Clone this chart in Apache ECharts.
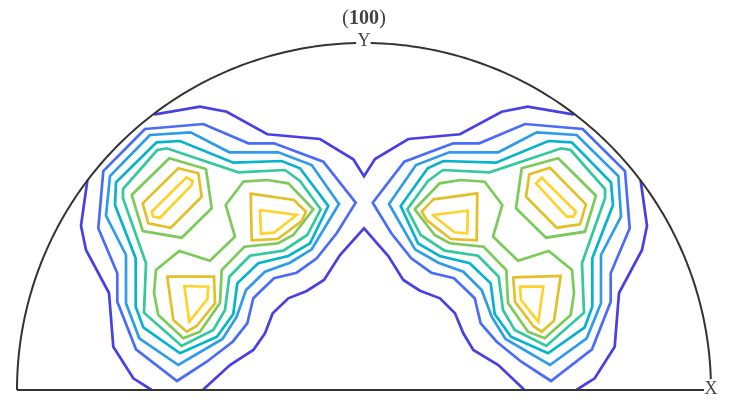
<!DOCTYPE html>
<html>
<head>
<meta charset="utf-8">
<style>html,body{margin:0;padding:0;background:#fff}#c{width:730px;height:412px}</style>
<script src="https://cdn.jsdelivr.net/npm/echarts@6/dist/echarts.min.js"></script>
</head>
<body>
<div id="c"></div>
<script>
// Values, in the picture's own x / y (down) units.
const titleText = ['(', '100', ')'];
const axisLabelY = 'Y';
const axisLabelX = 'X';
const levelColors = ['#4a3fe2','#4a6cf6','#2e9ce8','#05b4cc','#33c89e','#7cca5a','#e3bf28','#fed32c'];

const level1Open = [
  [[155,114.3],[200,106.7],[226.7,111.7],[267.3,134.3],[320,139],[353.3,159.3],[364,176.3],[375,159],[408.3,139],[460,134.3],[501.7,111.7],[527.7,106.7],[573,114.3]],
  [[87.3,181],[81,225.7],[86,250],[109,293],[113.3,346.7],[133.3,378.3],[151,389.5]],
  [[203.3,389.5],[230,365],[253.3,350],[265,333.3],[272.7,313.3],[288.3,298.3],[306.7,291],[324,280],[340,255],[364,228.3],[388.3,256],[403.3,280],[420,290.7],[440,298.3],[455,313.3],[463.3,333.3],[473.3,350],[498.3,365],[524,389.5]],
  [[640.7,181],[647,225.7],[642,250],[619,293],[614.7,346.7],[594.7,378.3],[577,389.5]]
];
const level2Left = [[145,129],[203.3,124],[248.3,143.3],[274,143.3],[323.3,161.7],[355.7,202.7],[336.7,233.3],[316.7,258.3],[296.7,272.7],[274,278.3],[253.3,298.3],[247.3,323.3],[232.7,341.7],[206.7,361.7],[177,381],[136,349.3],[117.3,301.7],[117.3,273.3],[98.3,228.3],[103.3,171]];
const level2Right = [[372.7,202.7],[404.3,161.7],[453.3,143.3],[479.3,143.3],[525,124],[582.7,129],[625,171],[629.7,228.3],[610.7,273.3],[610.7,301.7],[592,349.3],[551,381],[521.3,361.7],[496.7,341.7],[480.7,323.3],[474.7,298.3],[454,278.3],[431.3,272.7],[411.3,258.3],[391.3,233.3]];
const level3Left = [[150,135],[190.7,132.3],[229.3,152.3],[278.3,152.3],[311.7,165],[339,204],[311.7,249.3],[290,262.7],[265,271.7],[246,290],[236.7,316.7],[222.5,339],[178.3,365],[139.3,338.3],[126,303.3],[126,255],[106,215.7],[110,176]];
const level3Right = [[389,204],[416,165],[449.3,152.3],[498.3,152.3],[536.7,132.3],[576.7,135],[618.3,176],[621,216.7],[601,255],[601,303.3],[586.7,338.3],[550,365],[505.5,339],[491.7,316.7],[481.7,290],[463.3,271.7],[438.3,262.7],[415,249.3]];
const level4Left = [[156.7,142.3],[180,141],[233.3,162.7],[281.7,161],[300,168.3],[328.3,206],[310,243.3],[288.3,256],[258.3,263.3],[237.3,283.3],[233.3,314],[217,336.7],[180,353.3],[143.3,327.3],[135.7,306.7],[135.7,258.3],[115,205],[116,182.3]];
const level4Right = [[400.7,206],[427.7,168.3],[443.3,161],[496,162.7],[548.3,141],[571.7,142.3],[611,182.3],[613,205],[592.3,258.3],[592.3,306.7],[584.7,327.3],[548,353.3],[511,336.7],[494.7,314],[490.7,283.3],[469.7,263.3],[439.7,256],[418,243.3]];
const level5Left = [[157.3,150],[166.7,148.3],[238.3,172.3],[285,170],[300,181],[320.7,209.3],[307.3,235],[283.3,250.7],[250,255.7],[229.3,276.7],[225,310],[213.3,330],[181.7,346],[144,312.7],[146,263.3],[123,198.3],[123,189]];
const level5Right = [[407.3,209.3],[428,181],[443,170],[489.7,172.3],[561.3,148.3],[570.7,150],[605,189],[605,198.3],[582,263.3],[584,312.7],[546.3,346],[514.7,330],[503,310],[498.7,276.7],[478,255.7],[444.7,250.7],[420.7,235]];
const level6UpperLeft = [[169.3,158.3],[206,169],[211.7,208.3],[181.7,237.7],[142.7,231],[131.7,195]];
const level6UpperRight = [[521.7,168.3],[558.3,158.3],[596,195.7],[585,231.7],[546,237.7],[516,208.3]];
const level6LowerLeft = [[243.3,181.7],[267.3,180],[288.3,183.3],[313.3,209.3],[293.3,235],[278.3,243.3],[244.3,246.7],[221.7,270],[220,303],[200,331.7],[183.3,338.3],[158.3,315],[154,293.3],[156,270],[179.3,251],[210,260.7],[235,236.5],[225.7,205]];
const level6LowerRight = [[414.7,209.3],[439.7,183.3],[460.7,180],[484.7,181.7],[502.3,205],[493,236.5],[518,260.7],[548.7,251],[572,270],[574,293.3],[570.7,315],[544.7,338.3],[528,331.7],[508,303],[506.3,270],[483.7,246.7],[449.7,243.3],[434.7,235]];
const level7A = [[178.3,168.3],[198.3,173.3],[201.7,196.7],[170.7,227.7],[148.3,223.3],[142.7,203.3]];
const level7B = [[250.7,193.7],[294,200],[306,211.7],[301.7,221],[277.7,239],[251.7,240.3]];
const level7C = [[167.3,276.7],[214,276.7],[215,303.3],[196.7,326],[186.7,331.7],[173.3,320]];
const level7D = [[529.3,174.3],[550,167.7],[586,204.3],[580,224.3],[556.7,227.7],[526,196.7]];
const level7E = [[433.3,199.3],[477.3,193.3],[476.7,240.3],[450.7,239],[426.7,220],[421.7,211.7]];
const level7F = [[513.3,277.3],[560.7,276],[554,320.7],[541.7,331.7],[533.3,326],[515,301.7]];
const level8A = [[186.7,177.3],[192.7,181],[191.7,185],[160,217.7],[153.3,216.7],[151.7,211.7]];
const level8B = [[260,210],[296.7,215],[274,232.7],[261,233.7]];
const level8C = [[184.3,286],[208.3,286.7],[207.3,299.3],[189.3,321.7]];
const level8D = [[541.7,177.7],[536,183.3],[566.7,216.7],[573.3,216.7],[576,211.7]];
const level8E = [[432.7,215],[467.7,210.7],[467.3,233.3],[454.3,232.3]];
const level8F = [[520,286.7],[543.3,286.7],[538.3,321.7],[521,300]];

const frameCentre = [364, 390];
const frameRadius = 347;
const frameBase = [[17,390],[704,390]];

const close = p => p.concat([p[0]]);
const contours = [
  ...level1Open.map(p => [0, p]),
  [1, close(level2Left)], [1, close(level2Right)],
  [2, close(level3Left)], [2, close(level3Right)],
  [3, close(level4Left)], [3, close(level4Right)],
  [4, close(level5Left)], [4, close(level5Right)],
  [5, close(level6UpperLeft)], [5, close(level6UpperRight)],
  [5, close(level6LowerLeft)], [5, close(level6LowerRight)],
  ...[level7A,level7B,level7C,level7D,level7E,level7F].map(p => [6, close(p)]),
  ...[level8A,level8B,level8C,level8D,level8E,level8F].map(p => [7, close(p)])
];

// Circular frame of the pole figure (left of the Y gap, right of the Y gap).
function arc(fromDeg, toDeg) {
  const pts = [];
  const n = Math.ceil(Math.abs(toDeg - fromDeg));
  for (let i = 0; i <= n; i++) {
    const a = (fromDeg + (toDeg - fromDeg) * i / n) * Math.PI / 180;
    pts.push([frameCentre[0] + frameRadius * Math.cos(a), frameCentre[1] - frameRadius * Math.sin(a)]);
  }
  return pts;
}
const frameStyle = { color: '#333333', width: 2 };
const frame = [arc(180, 91.3), arc(88.9, 1.8), frameBase];

const series = [];
frame.forEach(p => series.push({ type:'line', data:p, symbol:'none', silent:true, clip:false, lineStyle:frameStyle, z:3 }));
contours.forEach(([lv, p]) => series.push({
  type:'line', data:p, symbol:'none', silent:true, clip:false, z:2,
  lineStyle:{ color:levelColors[lv], width:2.7, join:'miter', miterLimit:4, cap:'round' }
}));
const labelFont = '"Liberation Serif", "DejaVu Serif", serif';
const ink = '#111111';
const hiddenDot = { color:'rgba(255,255,255,0)' };
series.push({
  type:'scatter', symbol:'circle', symbolSize:1, itemStyle:hiddenDot, silent:true, z:5,
  data:[
    { value:[364,18.5], label:{ show:true, position:'inside', fontFamily:labelFont, color:ink,
      formatter:'{a|' + titleText[0] + '}{b|' + titleText[1] + '}{a|' + titleText[2] + '}',
      rich:{ a:{ fontSize:21, fontFamily:labelFont, color:ink }, b:{ fontSize:20, fontWeight:'bold', fontFamily:labelFont, color:ink } } } },
    { value:[364,41.5], label:{ show:true, position:'inside', formatter:axisLabelY, fontFamily:labelFont, fontSize:18, color:ink } },
    { value:[711,389], label:{ show:true, position:'inside', formatter:axisLabelX, fontFamily:labelFont, fontSize:18, color:ink } }
  ]
});

const chart = echarts.init(document.getElementById('c'), null, { renderer:'canvas' });
chart.setOption({
  animation:false,
  backgroundColor:'#ffffff',
  grid:{ left:0, right:0, top:0, bottom:0 },
  xAxis:{ type:'value', min:0, max:730, show:false },
  yAxis:{ type:'value', min:0, max:412, inverse:true, show:false },
  series
});
</script>
</body>
</html>
